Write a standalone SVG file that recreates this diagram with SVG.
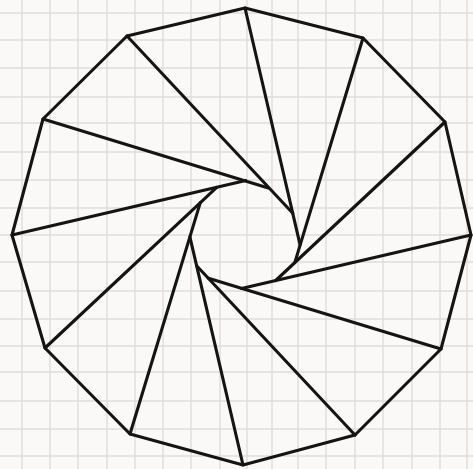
<svg xmlns="http://www.w3.org/2000/svg" width="473" height="469" viewBox="0 0 473 469">
<style>
.g{stroke:#e1dcdb;stroke-width:1.4;fill:none}
.ink{stroke:#141414;stroke-width:3.1;fill:none;stroke-linejoin:round;stroke-linecap:round}
</style>
<rect width="473" height="469" fill="#faf9f7"/>
<g id="grid" class="g">
<path d="M22 0V469M50 0V469M78 0V469M107 0V469M135 0V469M163 0V469M191 0V469M220 0V469M247 0V469M272 0V469M298 0V469M326 0V469M355 0V469M383 0V469M412 0V469M440 0V469M467 0V469"/>
<path d="M0 13H473M0 40H473M0 68H473M0 97H473M0 123H473M0 152H473M0 180H473M0 208H473M0 235H473M0 262H473M0 291H473M0 319H473M0 346H473M0 372H473M0 401H473M0 429H473M0 456H473"/>
</g>
<g id="dodecagon">
<polygon class="ink" points="245,8 363,38 445,122 471,235 441,349 355,435 243,465 130,434 45,348 12,235 43,119 127,36"/>
</g>
<g id="spokes" class="ink">
<line x1="245" y1="8" x2="300.1" y2="244.9"/>
<line x1="363" y1="38" x2="294.8" y2="262.6"/>
<line x1="445" y1="122" x2="275.7" y2="280.5"/>
<line x1="471" y1="235" x2="241.5" y2="288.4"/>
<line x1="441" y1="349" x2="208.4" y2="278.3"/>
<line x1="355" y1="435" x2="196.6" y2="265.7"/>
<line x1="243" y1="465" x2="189.9" y2="236.8"/>
<line x1="130" y1="434" x2="200.3" y2="202.6"/>
<line x1="45" y1="348" x2="216.7" y2="187.4"/>
<line x1="12" y1="235" x2="245.8" y2="180.6"/>
<line x1="43" y1="119" x2="268.3" y2="187.9"/>
<line x1="127" y1="36" x2="292.8" y2="213.2"/>
</g>
</svg>
